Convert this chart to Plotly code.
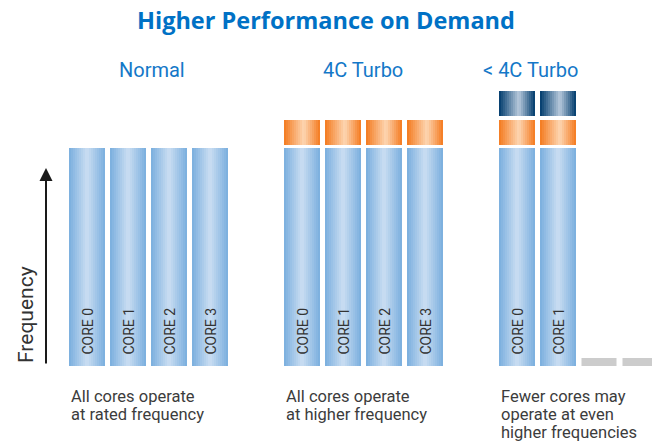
import plotly.graph_objects as go

# ---------------- data ----------------
title = "Higher Performance on Demand"
groups = ["Normal", "4C Turbo", "< 4C Turbo"]
cores = ["CORE 0", "CORE 1", "CORE 2", "CORE 3"]
# frequency (arbitrary units) of each core, per mode
rated_freq = [[218, 218, 218, 218], [218, 218, 218, 218], [218, 218, 0, 0]]
turbo_bin1 = [[0, 0, 0, 0], [25, 25, 25, 25], [25, 25, 0, 0]]
turbo_bin2 = [[0, 0, 0, 0], [0, 0, 0, 0], [25, 25, 0, 0]]
idle_level = [[0, 0, 0, 0], [0, 0, 0, 0], [0, 0, 8, 8]]
captions = [
    ["All cores operate", "at rated frequency"],
    ["All cores operate", "at higher frequency"],
    ["Fewer cores may", "operate at even", "higher frequencies"],
]
axis_label = "Frequency"

# ---------------- style / layout ----------------
W, H = 652, 445
FONT = "Roboto"
BLUE_T = "#0071C5"
TXT = "#3c3c3c"
group_left = [69, 284, 499]
subtitle_x = [152, 363, 530]
pitch = 41
bar_w = 36
floor = H - 366          # bottom of bars (y units == pixels)
seg_gap = 3
n_slices = 18

grad_blue = [(0, "#7aaede"), (0.5, "#cadef2"), (1, "#7aaede")]
grad_orange = [(0, "#f47a1f"), (0.55, "#fdd6b2"), (1, "#f47a1f")]
grad_dark = [(0, "#003b6c"), (0.55, "#b7c9dc"), (1, "#003b6c")]


def hex2rgb(h):
    h = h.lstrip("#")
    return [int(h[i:i + 2], 16) for i in (0, 2, 4)]


def interp(stops, t):
    for (p0, c0), (p1, c1) in zip(stops[:-1], stops[1:]):
        if p0 <= t <= p1:
            f = (t - p0) / (p1 - p0)
            a, b = hex2rgb(c0), hex2rgb(c1)
            return "rgb(%d,%d,%d)" % tuple(round(a[i] + (b[i] - a[i]) * f) for i in range(3))
    return stops[-1][1]


fig = go.Figure()


def add_segment(values, bases, stops):
    sw = bar_w / n_slices
    for k in range(n_slices):
        xs, ys, bs = [], [], []
        for g in range(len(groups)):
            for c in range(len(cores)):
                v = values[g][c]
                if v <= 0:
                    continue
                left = group_left[g] + c * pitch
                xs.append(left + (k + 0.5) * sw)
                ys.append(v)
                bs.append(bases[g][c])
        fig.add_trace(go.Bar(
            x=xs, y=ys, base=bs, width=sw * 1.02,
            marker=dict(color=interp(stops, (k + 0.5) / n_slices), line=dict(width=0)),
            hoverinfo="skip", showlegend=False))


base0 = [[floor] * 4 for _ in groups]
base1 = [[floor + rated_freq[g][c] + seg_gap for c in range(4)] for g in range(3)]
base2 = [[base1[g][c] + turbo_bin1[g][c] + seg_gap + 1 for c in range(4)] for g in range(3)]

add_segment(rated_freq, base0, grad_blue)
add_segment(turbo_bin1, base1, grad_orange)
add_segment(turbo_bin2, base2, grad_dark)

# idle cores (gray)
ix, iy, ib = [], [], []
for g in range(3):
    for c in range(4):
        if idle_level[g][c] > 0:
            ix.append(group_left[g] + c * pitch + bar_w / 2)
            iy.append(idle_level[g][c])
            ib.append(floor)
fig.add_trace(go.Bar(x=ix, y=iy, base=ib, width=bar_w - 1,
                     marker=dict(color="#cccccc", line=dict(width=0)),
                     hoverinfo="skip", showlegend=False))

ann = []
ann.append(dict(x=W / 2, y=H - 20, text="<b>%s</b>" % title, showarrow=False,
                font=dict(family="Open Sans", size=23.5, color=BLUE_T), xanchor="center", yanchor="middle"))
for g, name in enumerate(groups):
    ann.append(dict(x=subtitle_x[g], y=H - 70, text=name, showarrow=False,
                    font=dict(family=FONT, size=20, color="#1478c8"), xanchor="center", yanchor="middle"))
    for c in range(4):
        if rated_freq[g][c] > 0:
            ann.append(dict(x=group_left[g] + c * pitch + bar_w / 2, y=floor + 9, text=cores[c],
                            textangle=-90, showarrow=False, xanchor="center", yanchor="bottom",
                            font=dict(family=FONT, size=14, color="#333333")))
    for i, line in enumerate(captions[g]):
        ann.append(dict(x=group_left[g], y=H - (396 + 18 * i), text=line, showarrow=False,
                        xanchor="left", yanchor="middle",
                        font=dict(family=FONT, size=16.5, color=TXT)))

ann.append(dict(x=26, y=H - 315, text=axis_label, textangle=-90, showarrow=False,
                xanchor="center", yanchor="middle", font=dict(family=FONT, size=21, color="#333333")))
ann.append(dict(x=46, y=H - 168, ax=46, ay=H - 365, axref="x", ayref="y", xref="x", yref="y",
                text="", showarrow=True, arrowhead=2, arrowsize=1.3, arrowwidth=2, arrowcolor="#1a1a1a"))

fig.update_layout(
    width=W, height=H, margin=dict(l=0, r=0, t=0, b=0),
    paper_bgcolor="white", plot_bgcolor="white",
    barmode="overlay", showlegend=False, annotations=ann,
    xaxis=dict(range=[0, W], visible=False, fixedrange=True),
    yaxis=dict(range=[0, H], visible=False, fixedrange=True),
)
fig.write_html("out.html", config={"displayModeBar": False},
               post_script="document.body.style.margin='0';document.body.style.overflow='hidden';")
